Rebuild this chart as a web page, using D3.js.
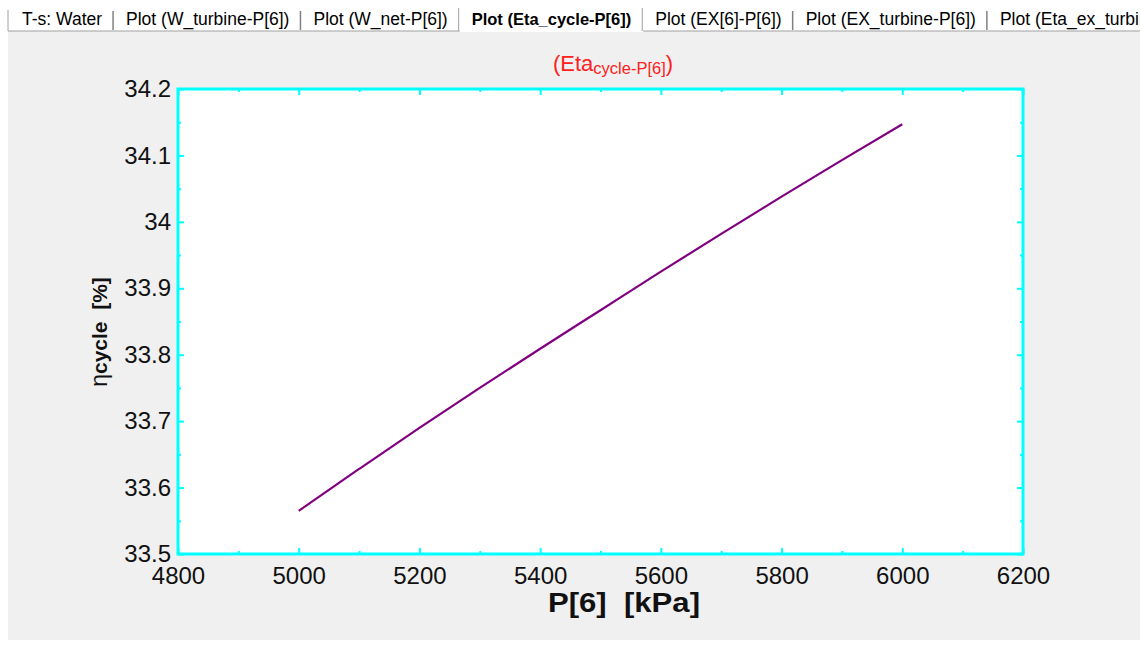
<!DOCTYPE html>
<html>
<head>
<meta charset="utf-8">
<title>Eta_cycle-P[6]</title>
<script src="https://cdn.jsdelivr.net/npm/d3@7"></script>
<style>
  body { margin: 0; background: #ffffff; }
  svg text { font-family: "Liberation Sans", Arial, sans-serif; white-space: pre; }
</style>
</head>
<body>
<svg id="chart" width="1140" height="645"></svg>
<script>
// tab captions (the active one is the 4th)
var tabs = ["T-s: Water", "Plot (W_turbine-P[6])", "Plot (W_net-P[6])", "Plot (Eta_cycle-P[6])",
            "Plot (EX[6]-P[6])", "Plot (EX_turbine-P[6])", "Plot (Eta_ex_turbine-P[6])"];
var activeTab = 3;

// data: P[6] in kPa, eta_cycle in %
var pressure = [5000, 5100, 5200, 5300, 5400, 5500, 5600, 5700, 5800, 5900, 6000];
var etaCycle = [33.565, 33.628, 33.690, 33.750, 33.809, 33.867, 33.925, 33.982, 34.038, 34.093, 34.147];

// axis ticks
var xMajor = [4800, 5000, 5200, 5400, 5600, 5800, 6000, 6200];
var xMinor = [4900, 5100, 5300, 5500, 5700, 5900, 6100];
var yMajor = [33.5, 33.6, 33.7, 33.8, 33.9, 34, 34.1, 34.2];
var yMinor = [33.55, 33.65, 33.75, 33.85, 33.95, 34.05, 34.15];

var svg = d3.select("#chart");

// grey panel under the tab row
svg.append("rect").attr("x", 8).attr("y", 31).attr("width", 1132).attr("height", 609).attr("fill", "#f0f0f0");

// tab row
var tabG = svg.append("g");
tabG.append("line").attr("x1", 8).attr("x2", 1140).attr("y1", 31).attr("y2", 31).attr("stroke", "#a0a0a0");
tabG.append("line").attr("x1", 8).attr("x2", 8).attr("y1", 10).attr("y2", 31).attr("stroke", "#a0a0a0");
var tx = 22;
tabs.forEach(function(t, i) {
  var txt = tabG.append("text").attr("x", tx).attr("y", 25)
    .attr("font-size", i == activeTab ? 16.5 : 17.5).attr("fill", "#000")
    .attr("font-weight", i == activeTab ? "bold" : "normal")
    .text(t);
  var w = txt.node().getComputedTextLength();
  if (i == activeTab) {
    tabG.insert("rect", "text").attr("x", tx - 12).attr("y", 7).attr("width", w + 24).attr("height", 25).attr("fill", "#ffffff");
  }
  var sx = tx + w + 11;
  if (i != activeTab - 1 && i != activeTab) {
    tabG.append("line").attr("x1", sx).attr("x2", sx).attr("y1", 11).attr("y2", 30).attr("stroke", "#808080").attr("stroke-width", 1.5);
  } else {
    tabG.append("line").attr("x1", sx).attr("x2", sx).attr("y1", 8).attr("y2", 31).attr("stroke", "#a0a0a0");
  }
  tx += w + 24;
});

// plot area
var pLeft = 178, pRight = 1023, pTop = 89, pBottom = 554;
var x = d3.scaleLinear().domain([4800, 6200]).range([pLeft, pRight]);
var y = d3.scaleLinear().domain([33.5, 34.2]).range([pBottom, pTop]);

svg.append("rect").attr("x", pLeft).attr("y", pTop).attr("width", pRight - pLeft).attr("height", pBottom - pTop).attr("fill", "#ffffff");

function styleAxis(g) {
  g.select(".domain").remove();
  g.selectAll(".tick line").attr("stroke", "#00ffff").attr("stroke-width", 2);
  g.selectAll("text").attr("font-family", "Liberation Sans, Arial, sans-serif").attr("font-size", 24).attr("fill", "#111");
}

// major ticks with labels
svg.append("g").attr("transform", "translate(0," + pBottom + ")")
  .call(d3.axisBottom(x).tickValues(xMajor).tickSize(-6).tickPadding(13).tickFormat(d3.format("d")))
  .call(styleAxis);
svg.append("g").attr("transform", "translate(" + pLeft + ",0)")
  .call(d3.axisLeft(y).tickValues(yMajor).tickSize(-6).tickPadding(7).tickFormat(function(d) { return d3.format("~g")(d); }))
  .call(styleAxis);
svg.append("g").attr("transform", "translate(0," + pTop + ")")
  .call(d3.axisTop(x).tickValues(xMajor).tickSize(-6).tickFormat(""))
  .call(styleAxis);
svg.append("g").attr("transform", "translate(" + pRight + ",0)")
  .call(d3.axisRight(y).tickValues(yMajor).tickSize(-6).tickFormat(""))
  .call(styleAxis);

// minor ticks
svg.append("g").attr("transform", "translate(0," + pBottom + ")")
  .call(d3.axisBottom(x).tickValues(xMinor).tickSize(-3).tickFormat("")).call(styleAxis);
svg.append("g").attr("transform", "translate(0," + pTop + ")")
  .call(d3.axisTop(x).tickValues(xMinor).tickSize(-3).tickFormat("")).call(styleAxis);
svg.append("g").attr("transform", "translate(" + pLeft + ",0)")
  .call(d3.axisLeft(y).tickValues(yMinor).tickSize(-3).tickFormat("")).call(styleAxis);
svg.append("g").attr("transform", "translate(" + pRight + ",0)")
  .call(d3.axisRight(y).tickValues(yMinor).tickSize(-3).tickFormat("")).call(styleAxis);

// frame
svg.append("rect").attr("x", pLeft).attr("y", pTop).attr("width", pRight - pLeft).attr("height", pBottom - pTop)
  .attr("fill", "none").attr("stroke", "#00ffff").attr("stroke-width", 3);

// curve
var line = d3.line().curve(d3.curveMonotoneX)
  .x(function(d, i) { return x(pressure[i]); }).y(function(d) { return y(d); });
svg.append("path").datum(etaCycle).attr("d", line)
  .attr("fill", "none").attr("stroke", "#800080").attr("stroke-width", 2.2);

// title
var title = svg.append("text").attr("x", 613).attr("y", 71).attr("text-anchor", "middle").attr("fill", "#ff2020");
title.append("tspan").attr("font-size", 22).text("(Eta");
title.append("tspan").attr("font-size", 16.5).attr("dy", 3).text("cycle-P[6]");
title.append("tspan").attr("font-size", 22).attr("dy", -3).text(")");

// x axis title
svg.append("text").attr("x", 624).attr("y", 612).attr("text-anchor", "middle")
  .attr("font-size", 27).attr("font-weight", "bold").attr("fill", "#111")
  .attr("textLength", 152).attr("lengthAdjust", "spacingAndGlyphs")
  .text("P[6]  [kPa]");

// y axis title
var yt = svg.append("text").attr("transform", "translate(107,332) rotate(-90)")
  .attr("text-anchor", "middle").attr("fill", "#111").attr("font-size", 23);
yt.append("tspan").text("η");
yt.append("tspan").attr("font-weight", "bold").attr("font-size", 21).text("cycle  [%]");
</script>
</body>
</html>
